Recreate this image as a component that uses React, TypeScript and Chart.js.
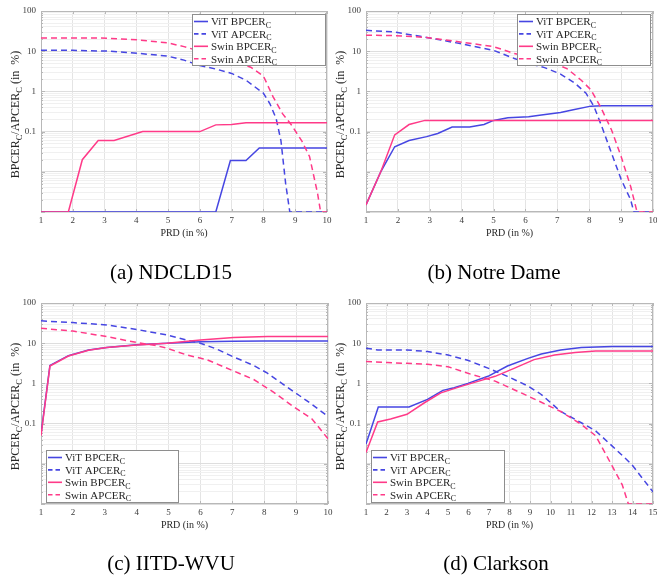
import React, { useEffect, useRef } from 'react';
import { Chart, registerables } from 'chart.js';

Chart.register(...registerables);

// ---------------- data: PRD (in %) vs. error rate (in %) ----------------

// (a) NDCLD15
const ndcldVitBpcerPrd = [1, 6.5, 6.96, 7.45, 7.87, 10];
const ndcldVitBpcer = [0.001, 0.001, 0.019, 0.019, 0.039, 0.039];
const ndcldVitApcerPrd = [1, 2, 3.2, 4.1, 5, 5.5, 6, 6.5, 7, 7.45, 8, 8.2, 8.4, 8.55, 8.7, 8.83, 10];
const ndcldVitApcer = [10.5, 10.5, 10, 8.8, 7.5, 6, 4.4, 3.6, 2.8, 1.9, 0.9, 0.5, 0.21, 0.06, 0.005, 0.001, 0.001];
const ndcldSwinBpcerPrd = [1, 1.86, 2.3, 2.8, 3.3, 4.2, 6, 6.5, 7, 7.45, 10];
const ndcldSwinBpcer = [0.001, 0.001, 0.02, 0.06, 0.06, 0.1, 0.1, 0.147, 0.15, 0.167, 0.167];
const ndcldSwinApcerPrd = [1, 2.85, 4.1, 5, 5.5, 6, 6.5, 7, 7.6, 8, 8.3, 8.6, 8.87, 9.2, 9.45, 9.7, 9.8, 10];
const ndcldSwinApcer = [21.4, 21.4, 19, 16, 13, 10, 7.8, 6, 4, 2.4, 0.74, 0.28, 0.15, 0.06, 0.024, 0.003, 0.001, 0.001];

// (b) Notre Dame
const ndVitBpcerPrd = [1, 1.47, 1.9, 2.35, 2.9, 3.25, 3.7, 4.25, 4.7, 5.0, 5.45, 6.1, 6.5, 7.1, 7.5, 8.05, 8.4, 10];
const ndVitBpcer = [0.0015, 0.0103, 0.042, 0.06, 0.075, 0.09, 0.13, 0.13, 0.15, 0.19, 0.22, 0.235, 0.26, 0.3, 0.35, 0.43, 0.44, 0.44];
const ndVitApcerPrd = [1, 1.9, 2.9, 3.95, 5.0, 5.65, 6.1, 6.6, 7.1, 7.55, 7.9, 8.15, 8.4, 8.7, 9.0, 9.3, 9.4, 10];
const ndVitApcer = [33, 30, 22, 15.5, 10.5, 6.6, 5, 3.9, 2.7, 1.6, 0.9, 0.42, 0.13, 0.029, 0.0065, 0.002, 0.001, 0.001];
const ndSwinBpcerPrd = [1, 1.47, 1.9, 2.35, 2.85, 10];
const ndSwinBpcer = [0.0015, 0.0103, 0.083, 0.15, 0.19, 0.19];
const ndSwinApcerPrd = [1, 1.9, 2.9, 3.95, 5.0, 5.65, 6.3, 6.9, 7.3, 7.75, 8.05, 8.35, 8.7, 9.0, 9.3, 9.5, 10];
const ndSwinApcer = [25, 24.5, 22, 17, 13, 8.8, 6.6, 5, 3.7, 1.9, 1.1, 0.42, 0.11, 0.024, 0.0043, 0.001, 0.001];

// (c) IITD-WVU
const iitdVitBpcerPrd = [1, 1.28, 1.86, 2.49, 3.06, 4.0, 4.95, 6.0, 7, 8, 10];
const iitdVitBpcer = [0.055, 2.8, 4.9, 6.8, 7.8, 9.1, 10, 10.8, 11.2, 11.4, 11.4];
const iitdVitApcerPrd = [1, 2, 3.06, 4, 4.95, 5.57, 6, 6.5, 7, 7.67, 8.1, 8.7, 9.1, 9.5, 10];
const iitdVitApcer = [36, 32.5, 28.5, 22, 16, 12, 10, 7.2, 4.7, 2.8, 1.8, 0.83, 0.5, 0.3, 0.15];
const iitdSwinBpcerPrd = [1, 1.28, 1.86, 2.49, 3.06, 4.0, 4.95, 6.0, 7.04, 8.1, 10];
const iitdSwinBpcer = [0.05, 2.7, 4.8, 6.7, 7.8, 9.0, 10, 12, 13.8, 14.6, 14.6];
const iitdSwinApcerPrd = [1, 2, 3.06, 4, 4.6, 4.95, 5.57, 6.2, 7, 7.67, 8.3, 8.9, 9.5, 10];
const iitdSwinApcer = [23.5, 20, 14.6, 10.4, 8.8, 7.5, 5.1, 3.9, 2.1, 1.25, 0.6, 0.27, 0.13, 0.042];

// (d) Clarkson
const clkVitBpcerPrd = [1, 1.6, 3.1, 4.0, 4.75, 5.3, 5.97, 6.95, 7.9, 8.9, 9.55, 10.5, 11.5, 13, 15];
const clkVitBpcer = [0.031, 0.26, 0.26, 0.4, 0.67, 0.78, 1.0, 1.5, 2.7, 4.2, 5.4, 6.8, 7.8, 8.3, 8.3];
const clkVitApcerPrd = [1, 1.57, 3.0, 4.0, 5.0, 6.0, 6.95, 7.9, 8.9, 9.55, 10.5, 11.5, 12.2, 13, 13.95, 15];
const clkVitApcer = [7.5, 6.8, 6.8, 6.2, 5.1, 3.7, 2.4, 1.5, 0.86, 0.53, 0.2, 0.105, 0.066, 0.028, 0.0098, 0.002];
const clkSwinBpcerPrd = [1, 1.57, 2.2, 3.0, 3.85, 4.65, 5.6, 6.5, 7.3, 8.25, 9.2, 10.2, 11.2, 12.2, 15];
const clkSwinBpcer = [0.019, 0.11, 0.13, 0.17, 0.33, 0.58, 0.83, 1.14, 1.5, 2.4, 3.9, 5.1, 5.9, 6.4, 6.4];
const clkSwinApcerPrd = [1, 2.05, 4.0, 5.0, 6.1, 7.3, 8.57, 9.55, 10.5, 11.5, 12.2, 13, 13.5, 13.8, 15];
const clkSwinApcer = [3.5, 3.3, 3.0, 2.6, 1.7, 1.14, 0.58, 0.34, 0.2, 0.096, 0.05, 0.009, 0.003, 0.001, 0.001];

// axis ranges and labelled ticks
const yMin = 0.001;
const yMax = 100;
const yTickLabels = [0.1, 1, 10, 100];
const minorMantissas = [1, 2, 3, 4, 5, 6, 7, 8, 9];

// ---------------- styling ----------------
const SERIF = "'Liberation Serif', 'Times New Roman', serif";
const VIT = '#4646e2';
const SWIN = '#ff3a88';
const AXIS = '#b8b8b8';

type Part = { t: string; sub?: boolean };

const seriesStyles = [
  { label: [{ t: 'ViT BPCER' }, { t: 'C', sub: true }], color: VIT, dash: [] as number[], order: 1 },
  { label: [{ t: 'ViT APCER' }, { t: 'C', sub: true }], color: VIT, dash: [6, 4], order: 1 },
  { label: [{ t: 'Swin BPCER' }, { t: 'C', sub: true }], color: SWIN, dash: [] as number[], order: 0 },
  { label: [{ t: 'Swin APCER' }, { t: 'C', sub: true }], color: SWIN, dash: [6, 4], order: 0 },
];

const yTitle: Part[] = [
  { t: 'BPCER' }, { t: 'C', sub: true }, { t: '/APCER' }, { t: 'C', sub: true }, { t: ' (in  %)' },
];

type Box = { left: number; top: number; right: number; bottom: number };
type PanelCfg = {
  caption: string;
  xMax: number;
  series: [number[], number[]][];
  area: Box;
  legend: { x: number; y: number; w: number; h: number };
  captionX: number;
  captionY: number;
};

const panels: PanelCfg[] = [
  {
    caption: '(a) NDCLD15',
    xMax: 10,
    series: [
      [ndcldVitBpcerPrd, ndcldVitBpcer],
      [ndcldVitApcerPrd, ndcldVitApcer],
      [ndcldSwinBpcerPrd, ndcldSwinBpcer],
      [ndcldSwinApcerPrd, ndcldSwinApcer],
    ],
    area: { left: 41, top: 11, right: 327, bottom: 212 },
    legend: { x: 192, y: 14, w: 133, h: 51 },
    captionX: 171,
    captionY: 273,
  },
  {
    caption: '(b) Notre Dame',
    xMax: 10,
    series: [
      [ndVitBpcerPrd, ndVitBpcer],
      [ndVitApcerPrd, ndVitApcer],
      [ndSwinBpcerPrd, ndSwinBpcer],
      [ndSwinApcerPrd, ndSwinApcer],
    ],
    area: { left: 366, top: 11, right: 653, bottom: 212 },
    legend: { x: 517, y: 14, w: 133, h: 51 },
    captionX: 494,
    captionY: 273,
  },
  {
    caption: '(c) IITD-WVU',
    xMax: 10,
    series: [
      [iitdVitBpcerPrd, iitdVitBpcer],
      [iitdVitApcerPrd, iitdVitApcer],
      [iitdSwinBpcerPrd, iitdSwinBpcer],
      [iitdSwinApcerPrd, iitdSwinApcer],
    ],
    area: { left: 41, top: 303, right: 328, bottom: 504 },
    legend: { x: 46, y: 450, w: 132, h: 52 },
    captionX: 171,
    captionY: 564,
  },
  {
    caption: '(d) Clarkson',
    xMax: 15,
    series: [
      [clkVitBpcerPrd, clkVitBpcer],
      [clkVitApcerPrd, clkVitApcer],
      [clkSwinBpcerPrd, clkSwinBpcer],
      [clkSwinApcerPrd, clkSwinApcer],
    ],
    area: { left: 366, top: 303, right: 653, bottom: 504 },
    legend: { x: 371, y: 450, w: 133, h: 52 },
    captionX: 496,
    captionY: 564,
  },
];

const PAGE_W = 657;
const PAGE_H = 585;
const Y_AXIS_W = 40;
const X_AXIS_H = 20;

// grid values for the log axis: 1..9 in every decade, plus the top
function logGridValues(): number[] {
  const out: number[] = [];
  const eMin = Math.round(Math.log10(yMin));
  const eMax = Math.round(Math.log10(yMax));
  for (let e = eMin; e < eMax; e++) {
    for (const m of minorMantissas) out.push(Number((m * Math.pow(10, e)).toPrecision(3)));
  }
  out.push(yMax);
  return out;
}

const isDecade = (v: number) => Math.abs(Math.log10(v) - Math.round(Math.log10(v))) < 1e-6;
const isLabelled = (v: number) => yTickLabels.some((l) => Math.abs(l - v) / l < 1e-6);

function setFont(ctx: CanvasRenderingContext2D, size: number) {
  ctx.font = `${size}px ${SERIF}`;
}

function richWidth(ctx: CanvasRenderingContext2D, parts: Part[], size: number, subSize: number) {
  let w = 0;
  for (const p of parts) {
    setFont(ctx, p.sub ? subSize : size);
    w += ctx.measureText(p.t).width;
  }
  return w;
}

function drawRich(
  ctx: CanvasRenderingContext2D,
  parts: Part[],
  x: number,
  y: number,
  size: number,
  subSize: number,
  subDy: number,
) {
  ctx.textAlign = 'left';
  ctx.textBaseline = 'alphabetic';
  let cx = x;
  for (const p of parts) {
    setFont(ctx, p.sub ? subSize : size);
    ctx.fillText(p.t, cx, p.sub ? y + subDy : y);
    cx += ctx.measureText(p.t).width;
  }
}

function makeDecor(cfg: PanelCfg) {
  return {
    id: 'panelDecor',
    beforeDatasetsDraw(chart: any) {
      const ctx: CanvasRenderingContext2D = chart.ctx;
      const { left, top, right, bottom } = chart.chartArea;
      ctx.save();
      ctx.strokeStyle = AXIS;
      ctx.lineWidth = 1;
      ctx.strokeRect(Math.round(left) + 0.5, Math.round(top) + 0.5, Math.round(right - left) - 1, Math.round(bottom - top) - 1);
      // small inward tick marks
      const ys = chart.scales.y;
      const xs = chart.scales.x;
      ctx.beginPath();
      for (const t of ys.ticks) {
        const py = Math.round(ys.getPixelForValue(t.value)) + 0.5;
        const len = isDecade(t.value) ? 4 : 2;
        ctx.moveTo(left, py);
        ctx.lineTo(left + len, py);
        ctx.moveTo(right, py);
        ctx.lineTo(right - len, py);
      }
      for (const t of xs.ticks) {
        const px = Math.round(xs.getPixelForValue(t.value)) + 0.5;
        ctx.moveTo(px, bottom);
        ctx.lineTo(px, bottom - 3);
        ctx.moveTo(px, top);
        ctx.lineTo(px, top + 3);
      }
      ctx.stroke();
      ctx.restore();
    },
    afterDraw(chart: any) {
      const ctx: CanvasRenderingContext2D = chart.ctx;
      const { left, top, right, bottom } = chart.chartArea;
      ctx.save();

      // legend
      const lg = cfg.legend;
      ctx.fillStyle = '#ffffff';
      ctx.fillRect(lg.x, lg.y, lg.w, lg.h);
      ctx.strokeStyle = '#8e8e8e';
      ctx.lineWidth = 1;
      ctx.strokeRect(lg.x + 0.5, lg.y + 0.5, lg.w, lg.h);
      seriesStyles.forEach((s, i) => {
        const cy = lg.y + 7.5 + i * 12.4;
        ctx.strokeStyle = s.color;
        ctx.lineWidth = 1.6;
        ctx.setLineDash(s.dash.length ? [4.5, 3] : []);
        ctx.beginPath();
        ctx.moveTo(lg.x + 2, cy);
        ctx.lineTo(lg.x + 16, cy);
        ctx.stroke();
        ctx.setLineDash([]);
        ctx.fillStyle = '#262626';
        drawRich(ctx, s.label, lg.x + 19, cy + 3.8, 11, 8, 2.5);
      });

      // y-axis title (rotated)
      const ty = (top + bottom) / 2 + 3;
      const tx = left - 26;
      ctx.translate(tx, ty);
      ctx.rotate(-Math.PI / 2);
      ctx.fillStyle = '#262626';
      const w = richWidth(ctx, yTitle, 12, 8.5);
      drawRich(ctx, yTitle, -w / 2, 4, 12, 8.5, 3);
      ctx.setTransform(1, 0, 0, 1, 0, 0);

      // x-axis title
      setFont(ctx, 10);
      ctx.fillStyle = '#262626';
      ctx.textAlign = 'center';
      ctx.textBaseline = 'middle';
      ctx.fillText('PRD (in %)', (left + right) / 2, bottom + 21);

      // caption
      setFont(ctx, 21);
      ctx.fillStyle = '#000000';
      ctx.fillText(cfg.caption, cfg.captionX, cfg.captionY);
      ctx.restore();
    },
  };
}

function Panel({ cfg }: { cfg: PanelCfg }) {
  const ref = useRef<HTMLCanvasElement>(null);

  useEffect(() => {
    const canvas = ref.current;
    if (!canvas) return;
    const gridValues = logGridValues();
    const a = cfg.area;

    const chart = new Chart(canvas, {
      type: 'line',
      data: {
        datasets: seriesStyles.map((s, i) => ({
          label: s.label.map((p) => p.t).join(''),
          data: cfg.series[i][0].map((x, j) => ({ x, y: cfg.series[i][1][j] })),
          borderColor: s.color,
          backgroundColor: s.color,
          borderDash: s.dash,
          borderWidth: 1.5,
          pointRadius: 0,
          tension: 0,
          fill: false,
          order: s.order,
        })),
      },
      options: {
        animation: false,
        responsive: false,
        events: [],
        layout: {
          padding: {
            left: a.left - Y_AXIS_W,
            top: a.top,
            right: PAGE_W - a.right,
            bottom: PAGE_H - a.bottom - X_AXIS_H,
          },
        },
        plugins: {
          legend: { display: false },
          tooltip: { enabled: false },
        },
        scales: {
          x: {
            type: 'linear',
            min: 1,
            max: cfg.xMax,
            ticks: {
              stepSize: 1,
              autoSkip: false,
              maxRotation: 0,
              padding: 3,
              color: '#3a3a3a',
              font: { family: SERIF, size: 9 },
            },
            grid: { color: '#e4e4e4', drawTicks: false },
            border: { display: false },
            afterFit: (s: any) => {
              s.height = X_AXIS_H;
              s.paddingLeft = 0;
              s.paddingRight = 0;
            },
          },
          y: {
            type: 'logarithmic',
            min: yMin,
            max: yMax,
            afterBuildTicks: (s: any) => {
              s.ticks = gridValues.map((v) => ({ value: v, major: isDecade(v) }));
            },
            ticks: {
              autoSkip: false,
              padding: 5,
              color: '#3a3a3a',
              font: { family: SERIF, size: 9 },
              callback: (v: any) => (isLabelled(Number(v)) ? String(Number(v)) : ''),
            },
            grid: {
              drawTicks: false,
              color: (c: any) => (c.tick && isDecade(c.tick.value) ? '#dedede' : '#f0f0f0'),
            },
            border: { display: false },
            afterFit: (s: any) => {
              s.width = Y_AXIS_W;
              s.paddingTop = 0;
              s.paddingBottom = 0;
            },
          },
        },
      },
      plugins: [makeDecor(cfg)],
    } as any);

    return () => chart.destroy();
  }, [cfg]);

  return (
    <canvas
      ref={ref}
      width={PAGE_W}
      height={PAGE_H}
      style={{ position: 'absolute', left: 0, top: 0, width: PAGE_W, height: PAGE_H, pointerEvents: 'none' }}
    />
  );
}

export default function App() {
  return (
    <div
      style={{
        position: 'absolute',
        left: 0,
        top: 0,
        width: PAGE_W,
        height: PAGE_H,
        background: '#ffffff',
        overflow: 'hidden',
      }}
    >
      {panels.map((p) => (
        <Panel key={p.caption} cfg={p} />
      ))}
    </div>
  );
}
